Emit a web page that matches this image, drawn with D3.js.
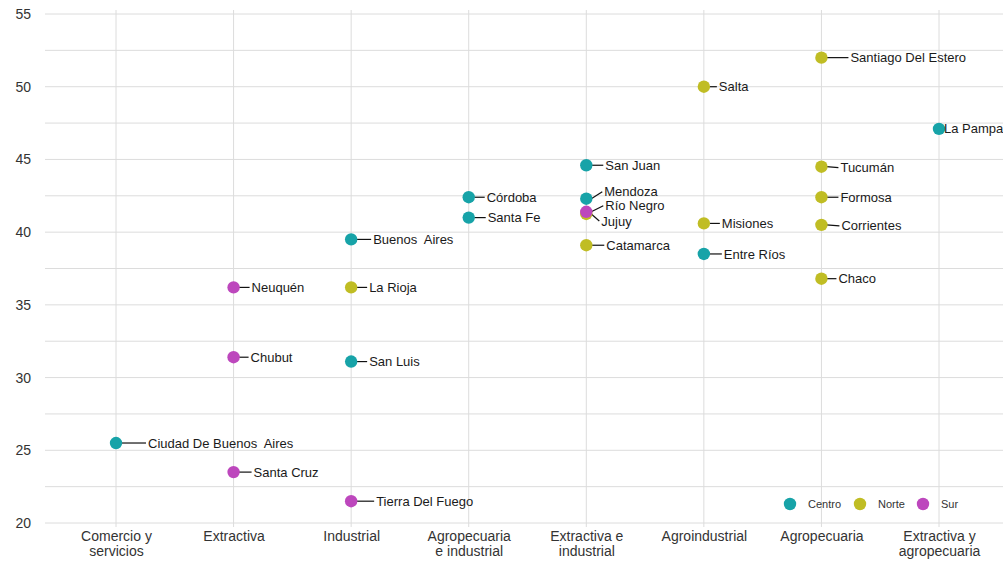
<!DOCTYPE html>
<html>
<head>
<meta charset="utf-8">
<script src="https://cdn.jsdelivr.net/npm/d3@7"></script>
<style>
  body { margin: 0; background: #fff; }
  svg { font-family: "Liberation Sans", Arial, sans-serif; }
  .lbl { font-size: 13px; fill: #1a1a1a; white-space: pre; }
  .tick text { font-size: 14px; fill: #333; }
</style>
</head>
<body>
<div id="chart"></div>
<script>
const categorias = ['Comercio y servicios', 'Extractiva', 'Industrial', 'Agropecuaria e industrial',
  'Extractiva e industrial', 'Agroindustrial', 'Agropecuaria', 'Extractiva y agropecuaria']
const categoriaLineas = [['Comercio y', 'servicios'], ['Extractiva'], ['Industrial'], ['Agropecuaria', 'e industrial'],
  ['Extractiva e', 'industrial'], ['Agroindustrial'], ['Agropecuaria'], ['Extractiva y', 'agropecuaria']]
const provincias = ['Ciudad De Buenos  Aires', 'Neuquén', 'Chubut', 'Santa Cruz',
  'Buenos  Aires', 'La Rioja', 'San Luis', 'Tierra Del Fuego',
  'Córdoba', 'Santa Fe',
  'San Juan', 'Mendoza', 'Jujuy', 'Río Negro', 'Catamarca',
  'Salta', 'Misiones', 'Entre Ríos',
  'Santiago Del Estero', 'Tucumán', 'Formosa', 'Corrientes', 'Chaco',
  'La Pampa']
const perfil = [0, 1, 1, 1,
  2, 2, 2, 2,
  3, 3,
  4, 4, 4, 4, 4,
  5, 5, 5,
  6, 6, 6, 6, 6,
  7]
const valores = [25.5, 36.2, 31.4, 23.5,
  39.5, 36.2, 31.1, 21.5,
  42.4, 41.0,
  44.6, 42.3, 41.25, 41.4, 39.1,
  50.0, 40.6, 38.5,
  52.0, 44.5, 42.4, 40.5, 36.8,
  47.1]
const region = ['Centro', 'Sur', 'Sur', 'Sur',
  'Centro', 'Norte', 'Centro', 'Sur',
  'Centro', 'Centro',
  'Centro', 'Centro', 'Norte', 'Sur', 'Norte',
  'Norte', 'Norte', 'Centro',
  'Norte', 'Norte', 'Norte', 'Norte', 'Norte',
  'Centro']
const regiones = ['Centro', 'Norte', 'Sur']
const yTicks = [20, 25, 30, 35, 40, 45, 50, 55]

// label nudges (px) as placed by the repel step in the original
const nudge = {
  'Ciudad De Buenos  Aires': [32, 0], 'Neuquén': [18, 0], 'Chubut': [17, 0], 'Santa Cruz': [20, 0],
  'Buenos  Aires': [22, 0], 'La Rioja': [18, 0], 'San Luis': [18, 0], 'Tierra Del Fuego': [25, 0],
  'Córdoba': [18, 0], 'Santa Fe': [19, 0],
  'San Juan': [19, 0], 'Mendoza': [18, -7], 'Jujuy': [15, 7], 'Río Negro': [19, -6], 'Catamarca': [20, 0],
  'Salta': [15, 0], 'Misiones': [18, 0], 'Entre Ríos': [20, 0],
  'Santiago Del Estero': [29, 0], 'Tucumán': [19, 1], 'Formosa': [19, 0], 'Corrientes': [20, 1], 'Chaco': [17, 0],
  'La Pampa': [5, 0]
}

const width = 1003
const height = 561
const margenIzq = 45
const margenSup = 10
const base = 523

const color = d3.scaleOrdinal().domain(regiones).range(['#17a3a8', '#c0bd24', '#bd47bd'])

const svg = d3.select('#chart').append('svg')
  .attr('width', width)
  .attr('height', height)

const x = d3.scalePoint().domain(categorias).range([116, 939])
const y = d3.scaleLinear().domain([20, 55]).range([base, 14])

// grid
svg.append('g').selectAll('line')
  .data(d3.range(20, 55.1, 2.5))
  .enter().append('line')
  .attr('x1', margenIzq).attr('x2', width)
  .attr('y1', d => y(d)).attr('y2', d => y(d))
  .attr('stroke', '#dcdcdc').attr('stroke-width', 1)

svg.append('g').selectAll('line')
  .data(categorias)
  .enter().append('line')
  .attr('x1', d => x(d)).attr('x2', d => x(d))
  .attr('y1', margenSup).attr('y2', base + 4)
  .attr('stroke', '#dcdcdc').attr('stroke-width', 1)

// y axis
const yAxis = svg.append('g')
  .attr('transform', `translate(${margenIzq}, 0)`)
  .call(d3.axisLeft(y).tickValues(yTicks).tickSize(0).tickPadding(14))
yAxis.select('.domain').remove()

// x axis
const xAxis = svg.append('g')
  .attr('transform', `translate(0, ${base})`)
  .call(d3.axisBottom(x).tickSize(0).tickPadding(8))
xAxis.select('.domain').remove()
xAxis.selectAll('.tick text').each(function(d, k) {
  const t = d3.select(this)
  t.text(null)
  categoriaLineas[k].forEach((l, i) => {
    t.append('tspan').attr('x', 0).attr('dy', i === 0 ? '0.71em' : '1.1em').text(l)
  })
})

// leader lines + labels
const idx = d3.range(provincias.length)

svg.append('g').selectAll('line')
  .data(idx)
  .enter().append('line')
  .attr('x1', i => x(categorias[perfil[i]]) + 5)
  .attr('y1', i => y(valores[i]))
  .attr('x2', i => x(categorias[perfil[i]]) + nudge[provincias[i]][0] - 2)
  .attr('y2', i => y(valores[i]) + nudge[provincias[i]][1])
  .attr('stroke', i => nudge[provincias[i]][0] > 8 ? '#111' : 'none')
  .attr('stroke-width', 1.2)

// points
svg.append('g').selectAll('circle')
  .data(idx)
  .enter().append('circle')
  .attr('cx', i => x(categorias[perfil[i]]))
  .attr('cy', i => y(valores[i]))
  .attr('r', 6.2)
  .attr('fill', i => color(region[i]))

svg.append('g').selectAll('text')
  .data(idx)
  .enter().append('text')
  .attr('class', 'lbl')
  .attr('x', i => x(categorias[perfil[i]]) + nudge[provincias[i]][0])
  .attr('y', i => y(valores[i]) + nudge[provincias[i]][1])
  .attr('dy', '0.35em')
  .text(i => provincias[i])

// legend
const leyenda = svg.append('g').attr('transform', 'translate(790, 504)')
const pasos = [0, 70, 133]
regiones.forEach((r, i) => {
  const g = leyenda.append('g').attr('transform', `translate(${pasos[i]}, 0)`)
  g.append('circle').attr('r', 6.2).attr('fill', color(r))
  g.append('text').attr('x', 18).attr('dy', '0.35em')
    .style('font-size', '11px').attr('fill', '#333').text(r)
})
</script>
</body>
</html>
